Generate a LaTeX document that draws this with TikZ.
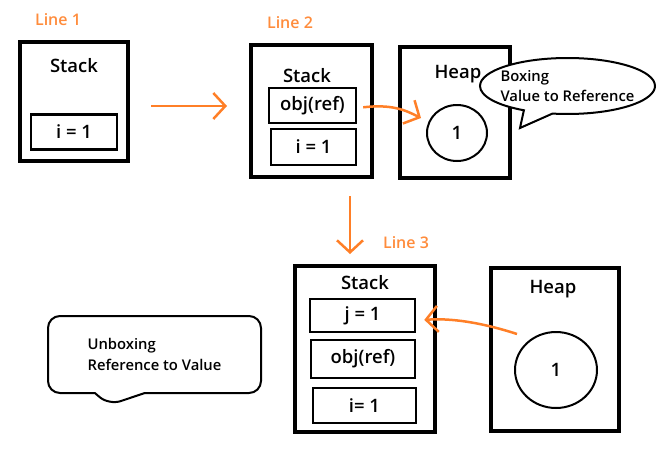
\documentclass[tikz,border=0pt]{standalone}
\usepackage{fontspec}
\setmainfont{Open Sans}[BoldFont={Open Sans Semibold}]
\usetikzlibrary{positioning,shapes.geometric,shapes.callouts,arrows.meta}
\definecolor{paintorange}{RGB}{255,127,39}
\definecolor{lineorange}{RGB}{255,140,60}
\begin{document}
\begin{tikzpicture}[x=1pt,y=-1pt,
	membox/.style={draw,line width=4pt,inner sep=0pt},
	slot/.style={draw,line width=2.5pt,inner sep=0pt,font=\fontsize{18.5}{20}\selectfont\bfseries},
	val/.style={draw,ellipse,line width=2pt,inner sep=0pt,font=\fontsize{18.5}{20}\selectfont\bfseries},
	title/.style={font=\fontsize{18.5}{20}\selectfont\bfseries},
	linelbl/.style={text=lineorange,font=\fontsize{16}{18}\selectfont\bfseries},
	flow/.style={draw=paintorange,line width=2.5pt,-{Straight Barb[length=12pt,width=26pt]}},
	note/.style={draw,line width=2pt,fill=white,align=left,inner sep=0pt,font=\fontsize{14.8}{20.5}\selectfont\bfseries}]
	\useasboundingbox (0,0) rectangle (662,450);
	% line 1
	\node[linelbl] (lineA) at (58,20) {Line 1};
	\node[membox,minimum width=108pt,minimum height=119pt] (stackA) at (74,101.5) {};
	\node[title] (stackAt) at (74,66) {Stack};
	\node[slot,minimum width=86pt,minimum height=35pt] (iA) at (74,132) {i = 1};
	% line 2
	\node[linelbl] (lineB) at (290,23) {Line 2};
	\node[membox,minimum width=121pt,minimum height=132pt] (stackB) at (311.5,111) {};
	\node[title] (stackBt) at (307,76) {Stack};
	\node[slot,minimum width=87pt,minimum height=35pt] (objA) at (312.5,105.5) {obj(ref)};
	\node[slot,minimum width=85pt,minimum height=36pt] (iB) at (313.5,147) {i = 1};
	\node[membox,minimum width=110pt,minimum height=131pt] (heapA) at (455,112.5) {};
	\node[title] (heapAt) at (458,74) {Heap};
	\node[val,minimum width=60pt,minimum height=56pt] (valA) at (457,133) {1};
	\node[note,ellipse callout,inner xsep=-6pt,inner ysep=-1pt,minimum width=175pt,minimum height=56pt,
		callout pointer arc=20,callout absolute pointer={(520,128)}] (boxing) at (567.5,86) {Boxing\\Value to Reference};
	% line 3
	\node[linelbl] (lineC) at (406,243) {Line 3};
	\node[membox,minimum width=140pt,minimum height=166pt] (stackC) at (365,349) {};
	\node[title] (stackCt) at (365,283) {Stack};
	\node[slot,minimum width=105pt,minimum height=33pt] (jC) at (362.5,315.5) {j = 1};
	\node[slot,minimum width=104pt,minimum height=38pt] (objC) at (363,359) {obj(ref)};
	\node[slot,minimum width=103pt,minimum height=35pt] (iC) at (364.5,405.5) {i= 1};
	\node[membox,minimum width=128pt,minimum height=163pt] (heapC) at (555,349.5) {};
	\node[title] (heapCt) at (553,289) {Heap};
	\node[val,minimum width=82pt,minimum height=76pt] (valC) at (556,370) {1};
	\node[note,rectangle callout,rounded corners=12pt,minimum width=213pt,minimum height=77pt,
		callout pointer width=50pt,callout absolute pointer={(109,405)}] (unboxing) at (154.5,354.5) {Unboxing\\Reference to Value};
	\coordinate (unboxfrom) at (517,334);
	% arrows
	\draw[flow,shorten <=21pt,shorten >=22pt] ([yshift=-4.5pt]stackA.east) -- ([yshift=-4.5pt]stackA.east -| stackB.west);
	\draw[flow,shorten <=6pt] ([yshift=-2.5pt]objA.east) .. controls (392,104) and (405,110) .. (421,118);
	\draw[flow,shorten <=17pt,shorten >=10pt] ([xshift=38.5pt]stackB.south) -- ([xshift=-15pt]stackC.north);
	\draw[flow,shorten >=8pt] (unboxfrom) .. controls (480,322) and (450,318) .. ([yshift=-5pt]jC.east);
\end{tikzpicture}
\end{document}
